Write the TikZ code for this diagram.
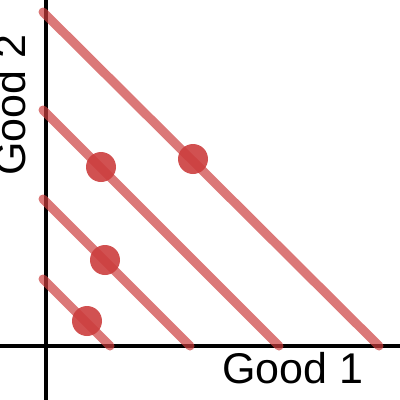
\documentclass[tikz,border=0pt]{standalone}
\usepackage{fontspec}
\setmainfont{Liberation Sans}
\definecolor{budget}{RGB}{204,62,62}
\tikzset{
  axis/.style={line width=4pt, black},
  bline/.style={line width=9pt, budget, opacity=0.7, line cap=round},
  bdot/.style={circle, fill=budget, opacity=0.9, minimum size=30pt, inner sep=0pt},
  lbl/.style={font=\fontsize{43}{43}\selectfont, inner sep=0pt}
}
\begin{document}
\begin{tikzpicture}[x=1pt,y=-1pt]
\useasboundingbox (0,0) rectangle (400,400);
\coordinate (yb) at (46,400); \coordinate (yt) at (46,0);
\coordinate (xl) at (0,346); \coordinate (xr) at (400,346);
\draw[axis] (yb) -- (yt);
\draw[axis] (xl) -- (xr);
\coordinate (a1) at (43,12);  \coordinate (b1) at (379,346);
\coordinate (a2) at (43,110); \coordinate (b2) at (279,346);
\coordinate (a3) at (43,199); \coordinate (b3) at (190,346);
\coordinate (a4) at (43,279); \coordinate (b4) at (110,346);
\draw[bline] (a1) -- (b1);
\draw[bline] (a2) -- (b2);
\draw[bline] (a3) -- (b3);
\draw[bline] (a4) -- (b4);
\node[bdot] (d1) at (101,167) {};
\node[bdot] (d2) at (193,159) {};
\node[bdot] (d3) at (105,260) {};
\node[bdot] (d4) at (87,321) {};
\node[lbl, anchor=base] (g1) at (293,383) {Good 1};
\node[lbl, anchor=base, rotate=90] (g2) at (25,105) {Good 2};
\end{tikzpicture}
\end{document}
